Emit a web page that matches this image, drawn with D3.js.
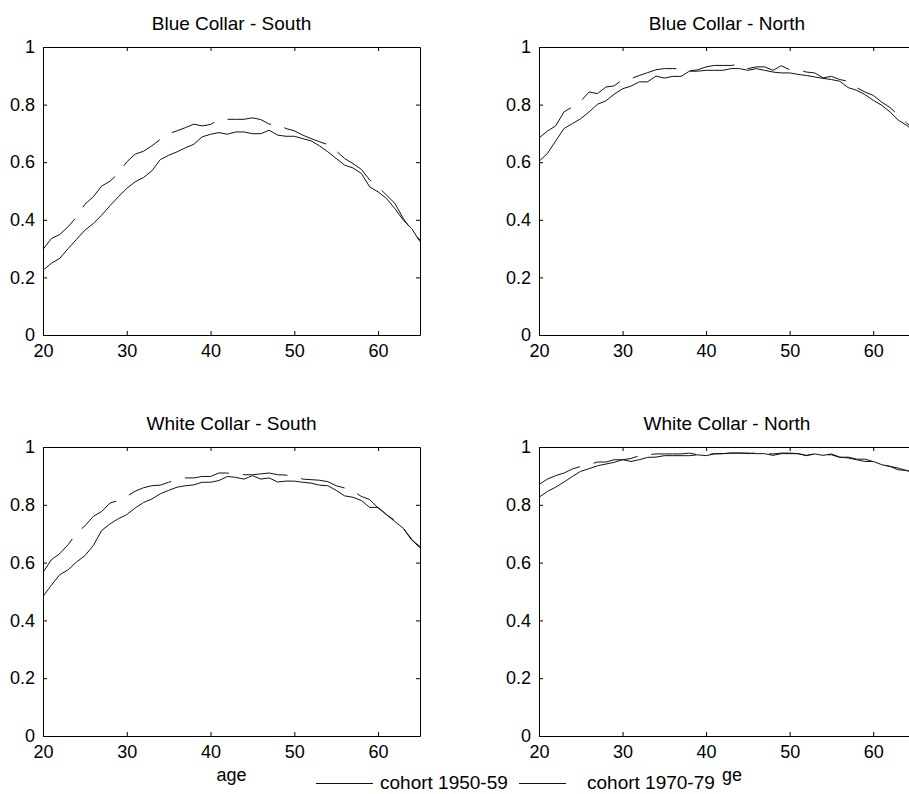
<!DOCTYPE html>
<html>
<head>
<meta charset="utf-8">
<script src="https://cdn.jsdelivr.net/npm/d3@7"></script>
<style>
  html, body { margin: 0; padding: 0; background: #fff; }
  svg { display: block; }
  text { font-family: "Liberation Sans", Arial, sans-serif; fill: #000; }
</style>
</head>
<body>
<svg id="chart" width="909" height="794"></svg>
<script>
const ages = [20,21,22,23,24,25,26,27,28,29,30,31,32,33,34,35,36,37,38,39,40,41,42,43,44,45,46,47,48,49,50,51,52,53,54,55,56,57,58,59,60,61,62,63,64,65];

const bcSouth1950 = [0.225,0.249,0.266,0.300,0.332,0.364,0.387,0.416,0.449,0.480,0.509,0.532,0.547,0.570,0.609,0.624,0.636,0.650,0.662,0.688,0.697,0.703,0.697,0.705,0.705,0.699,0.699,0.711,0.694,0.690,0.690,0.682,0.674,0.657,0.636,0.613,0.590,0.580,0.561,0.514,0.497,0.474,0.439,0.399,0.370,0.324];
const bcSouth1970 = [0.297,0.335,0.349,0.376,0.410,0.454,0.480,0.517,0.534,0.561,0.601,0.628,0.638,0.657,0.679,0.699,0.709,0.720,0.732,0.726,0.731,0.748,0.749,0.749,0.749,0.754,0.748,0.732,0.732,0.717,0.709,0.694,0.682,0.671,0.661,0.639,0.613,0.595,0.575,0.538,0.514,0.486,0.457,0.405,0.364,0.329];

const bcNorth1950 = [0.603,0.630,0.674,0.717,0.734,0.751,0.775,0.801,0.813,0.836,0.855,0.864,0.879,0.879,0.899,0.892,0.898,0.898,0.916,0.916,0.919,0.919,0.919,0.925,0.925,0.919,0.925,0.919,0.913,0.910,0.910,0.905,0.901,0.896,0.891,0.887,0.881,0.859,0.850,0.835,0.815,0.798,0.775,0.746,0.728,0.705];
const bcNorth1970 = [0.684,0.708,0.726,0.775,0.792,0.812,0.844,0.838,0.861,0.865,0.887,0.890,0.901,0.911,0.921,0.925,0.925,0.925,0.917,0.921,0.931,0.936,0.936,0.936,0.940,0.925,0.931,0.931,0.919,0.935,0.921,0.921,0.913,0.910,0.893,0.898,0.887,0.881,0.859,0.844,0.832,0.809,0.790,0.763,0.736,0.710];

const wcSouth1950 = [0.483,0.522,0.558,0.575,0.602,0.624,0.659,0.711,0.734,0.752,0.766,0.789,0.808,0.820,0.838,0.850,0.861,0.866,0.869,0.878,0.878,0.884,0.898,0.895,0.889,0.901,0.889,0.893,0.879,0.882,0.882,0.878,0.875,0.868,0.866,0.850,0.831,0.826,0.815,0.791,0.791,0.766,0.742,0.719,0.681,0.650];
const wcSouth1970 = [0.566,0.610,0.631,0.662,0.702,0.727,0.760,0.777,0.806,0.815,0.829,0.847,0.859,0.866,0.868,0.878,0.887,0.893,0.893,0.898,0.898,0.910,0.910,0.904,0.904,0.904,0.907,0.910,0.904,0.903,0.898,0.889,0.887,0.885,0.880,0.866,0.858,0.847,0.829,0.818,0.789,0.766,0.746,0.719,0.678,0.656];

const wcNorth1950 = [0.826,0.846,0.861,0.879,0.898,0.916,0.925,0.935,0.941,0.947,0.956,0.950,0.956,0.964,0.965,0.970,0.970,0.970,0.970,0.973,0.970,0.976,0.977,0.979,0.979,0.979,0.977,0.977,0.971,0.977,0.977,0.977,0.971,0.976,0.971,0.976,0.965,0.962,0.956,0.950,0.950,0.939,0.933,0.927,0.918,0.912];
const wcNorth1970 = [0.870,0.889,0.901,0.910,0.924,0.933,0.939,0.948,0.948,0.956,0.956,0.960,0.970,0.973,0.976,0.976,0.976,0.976,0.979,0.973,0.973,0.977,0.977,0.979,0.979,0.977,0.979,0.977,0.976,0.979,0.979,0.977,0.970,0.976,0.973,0.973,0.964,0.965,0.958,0.958,0.950,0.939,0.933,0.921,0.919,0.912];

const panelTitles = ["Blue Collar - South", "Blue Collar - North", "White Collar - South", "White Collar - North"];
const seriesNames = ["cohort 1950-59", "cohort 1970-79"];
const xTicks = [20,30,40,50,60];
const yTicks = [0,0.2,0.4,0.6,0.8,1];
const xLabel = "age";

const panelData = [
  [bcSouth1950, bcSouth1970],
  [bcNorth1950, bcNorth1970],
  [wcSouth1950, wcSouth1970],
  [wcNorth1950, wcNorth1970]
];

const svg = d3.select("#chart");
const FS = 18;     // tick labels, axis label
const FS_T = 19;   // titles, legend

const panels = [
  {x0: 43, x1: 420, y0: 47, y1: 335},
  {x0: 539, x1: 915, y0: 47, y1: 335},
  {x0: 43, x1: 420, y0: 447, y1: 736},
  {x0: 539, x1: 915, y0: 447, y1: 736}
];

panels.forEach((p, i) => {
  const x = d3.scaleLinear().domain([20, 65]).range([p.x0, p.x1]);
  const y = d3.scaleLinear().domain([0, 1]).range([p.y1, p.y0]);
  const g = svg.append("g");

  const clipId = "clip" + i;
  svg.append("clipPath").attr("id", clipId)
    .append("rect").attr("x", p.x0).attr("y", p.y0)
    .attr("width", p.x1 - p.x0).attr("height", p.y1 - p.y0);

  const line = d3.line().x((d, k) => x(ages[k])).y(d => y(d));

  const [s1, s2] = panelData[i];
  g.append("path").datum(s1).attr("d", line)
    .attr("fill", "none").attr("stroke", "#111").attr("stroke-width", 1)
    .attr("clip-path", `url(#${clipId})`);
  g.append("path").datum(s2).attr("d", line)
    .attr("fill", "none").attr("stroke", "#111").attr("stroke-width", 1)
    .attr("stroke-dasharray", "45,14")
    .attr("clip-path", `url(#${clipId})`);

  const ax = (sel) => sel.selectAll("text").style("font-size", FS + "px").style("font-family", '"Liberation Sans", Arial, sans-serif');

  g.append("g").attr("transform", `translate(0,${p.y1})`)
    .call(d3.axisBottom(x).tickValues(xTicks).tickSizeInner(-4).tickSizeOuter(0).tickPadding(9).tickFormat(d3.format("d")))
    .call(ax);
  g.append("g").attr("transform", `translate(0,${p.y0})`)
    .call(d3.axisTop(x).tickValues(xTicks).tickSizeInner(-4).tickSizeOuter(0).tickFormat(""));
  g.append("g").attr("transform", `translate(${p.x0},0)`)
    .call(d3.axisLeft(y).tickValues(yTicks).tickSizeInner(-4).tickSizeOuter(0).tickPadding(8).tickFormat(d => d3.format("")(d)))
    .call(ax);
  g.append("g").attr("transform", `translate(${p.x1},0)`)
    .call(d3.axisRight(y).tickValues(yTicks).tickSizeInner(-4).tickSizeOuter(0).tickFormat(""));

  g.selectAll(".domain").attr("stroke", "#000").attr("stroke-width", 1);
  g.selectAll(".tick line").attr("stroke", "#000");
  g.selectAll(".tick text").attr("fill", "#000");

  g.append("text")
    .attr("x", (p.x0 + p.x1) / 2).attr("y", p.y0 - 17)
    .attr("text-anchor", "middle").style("font-size", FS_T + "px")
    .text(panelTitles[i]);

  if (i >= 2) {
    g.append("text")
      .attr("x", (p.x0 + p.x1) / 2).attr("y", p.y1 + 45)
      .attr("text-anchor", "middle").style("font-size", FS + "px")
      .text(xLabel);
  }
});

// legend
const leg = svg.append("g");
leg.append("rect").attr("x", 300).attr("y", 767).attr("width", 422).attr("height", 30)
  .attr("fill", "#fff").attr("stroke", "none");
const legItems = [
  {x1: 316, x2: 373, tx: 380},
  {x1: 519, x2: 566, tx: 587}
];
legItems.forEach((it, k) => {
  leg.append("line").attr("x1", it.x1).attr("x2", it.x2).attr("y1", 783.5).attr("y2", 783.5)
    .attr("stroke", "#111").attr("stroke-width", 1);
  leg.append("text").attr("x", it.tx).attr("y", 789)
    .style("font-size", FS_T + "px").text(seriesNames[k]);
});
</script>
</body>
</html>
